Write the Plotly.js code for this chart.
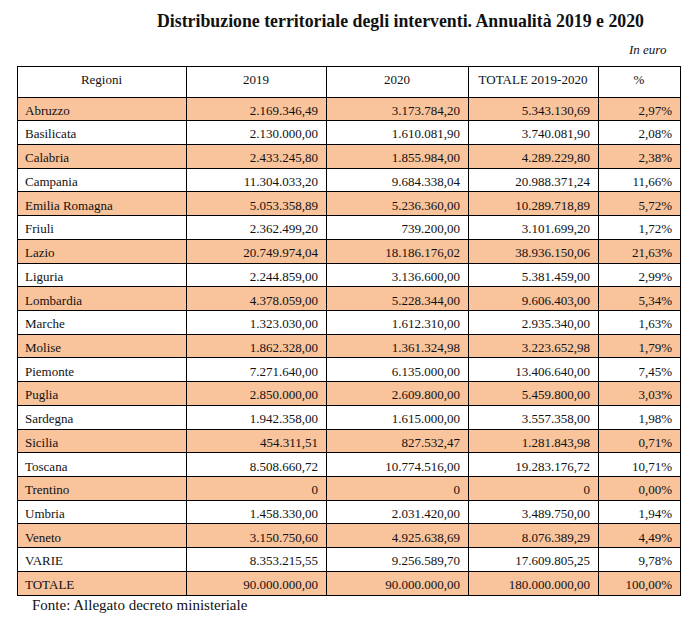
<!DOCTYPE html>
<html><head><meta charset="utf-8">
<script src="https://cdn.plot.ly/plotly-3.0.1.min.js"></script>
<style>html,body{margin:0;padding:0;background:#fff}</style>
</head><body><div id="chart" style="width:691px;height:625px"></div>
<script>
const headers = ["Regioni", "2019", "2020", "TOTALE 2019-2020", "%"];
const regions = ["Abruzzo","Basilicata","Calabria","Campania","Emilia Romagna","Friuli","Lazio","Liguria","Lombardia","Marche","Molise","Piemonte","Puglia","Sardegna","Sicilia","Toscana","Trentino","Umbria","Veneto","VARIE","TOTALE"];
const values2019 = [2169346.49,2130000.00,2433245.80,11304033.20,5053358.89,2362499.20,20749974.04,2244859.00,4378059.00,1323030.00,1862328.00,7271640.00,2850000.00,1942358.00,454311.51,8508660.72,0,1458330.00,3150750.60,8353215.55,90000000.00];
const values2020 = [3173784.20,1610081.90,1855984.00,9684338.04,5236360.00,739200.00,18186176.02,3136600.00,5228344.00,1612310.00,1361324.98,6135000.00,2609800.00,1615000.00,827532.47,10774516.00,0,2031420.00,4925638.69,9256589.70,90000000.00];
const totals = [5343130.69,3740081.90,4289229.80,20988371.24,10289718.89,3101699.20,38936150.06,5381459.00,9606403.00,2935340.00,3223652.98,13406640.00,5459800.00,3557358.00,1281843.98,19283176.72,0,3489750.00,8076389.29,17609805.25,180000000.00];
const percents = [2.97,2.08,2.38,11.66,5.72,1.72,21.63,2.99,5.34,1.63,1.79,7.45,3.03,1.98,0.71,10.71,0.00,1.94,4.49,9.78,100.00];

function fmt(v){
  if (v === 0) return "0";
  return v.toLocaleString("it-IT",{minimumFractionDigits:2,maximumFractionDigits:2,useGrouping:"always"});
}
function fmtPct(v){
  return v.toLocaleString("it-IT",{minimumFractionDigits:2,maximumFractionDigits:2}) + "%";
}
const ORANGE = "#f9c39c";
const rowColors = regions.map((r,i)=> i%2===0 ? ORANGE : "#ffffff");

const W = 691, H = 625;
const x0 = 17, x1 = 680, yTop = 66;
const font = "Liberation Serif, DejaVu Serif, serif";

const trace = {
  type: "table",
  domain: {x: [x0/W, x1/W], y: [0, 1 - yTop/H]},
  columnwidth: [169, 140, 142, 130, 82],
  header: {
    values: headers,
    align: "center",
    height: 31,
    line: {color: "#000", width: 1},
    fill: {color: "#ffffff"},
    font: {family: font, size: 13, color: "#111"}
  },
  cells: {
    values: [regions, values2019.map(fmt), values2020.map(fmt), totals.map(fmt), percents.map(fmtPct)],
    align: ["left","right","right","right","right"],
    height: 23.72,
    line: {color: "#000", width: 1},
    fill: {color: [rowColors,rowColors,rowColors,rowColors,rowColors]},
    font: {family: font, size: 13, color: "#111"}
  }
};

const layout = {
  width: W, height: H,
  margin: {l:0,r:0,t:0,b:0},
  paper_bgcolor: "#fff",
  showlegend: false,
  annotations: [
    {text: "<b>Distribuzione territoriale degli interventi. Annualità 2019 e 2020</b>", xref:"paper", yref:"paper",
     x: 400/W, y: 1 - 21/H, xanchor:"center", yanchor:"middle", showarrow:false,
     font:{family: font, size: 17.8, color:"#111"}},
    {text: "<i>In euro</i>", xref:"paper", yref:"paper", x: 669/W, y: 1 - 49/H, xanchor:"right", yanchor:"middle", showarrow:false,
     font:{family: font, size: 13, color:"#111"}},
    {text: "Fonte: Allegato decreto ministeriale", xref:"paper", yref:"paper", x: 30/W, y: 1 - 605/H, xanchor:"left", yanchor:"middle", showarrow:false,
     font:{family: font, size: 15, color:"#111"}}
  ]
};
Plotly.newPlot("chart", [trace], layout, {displayModeBar:false, staticPlot:true});
</script></body></html>
